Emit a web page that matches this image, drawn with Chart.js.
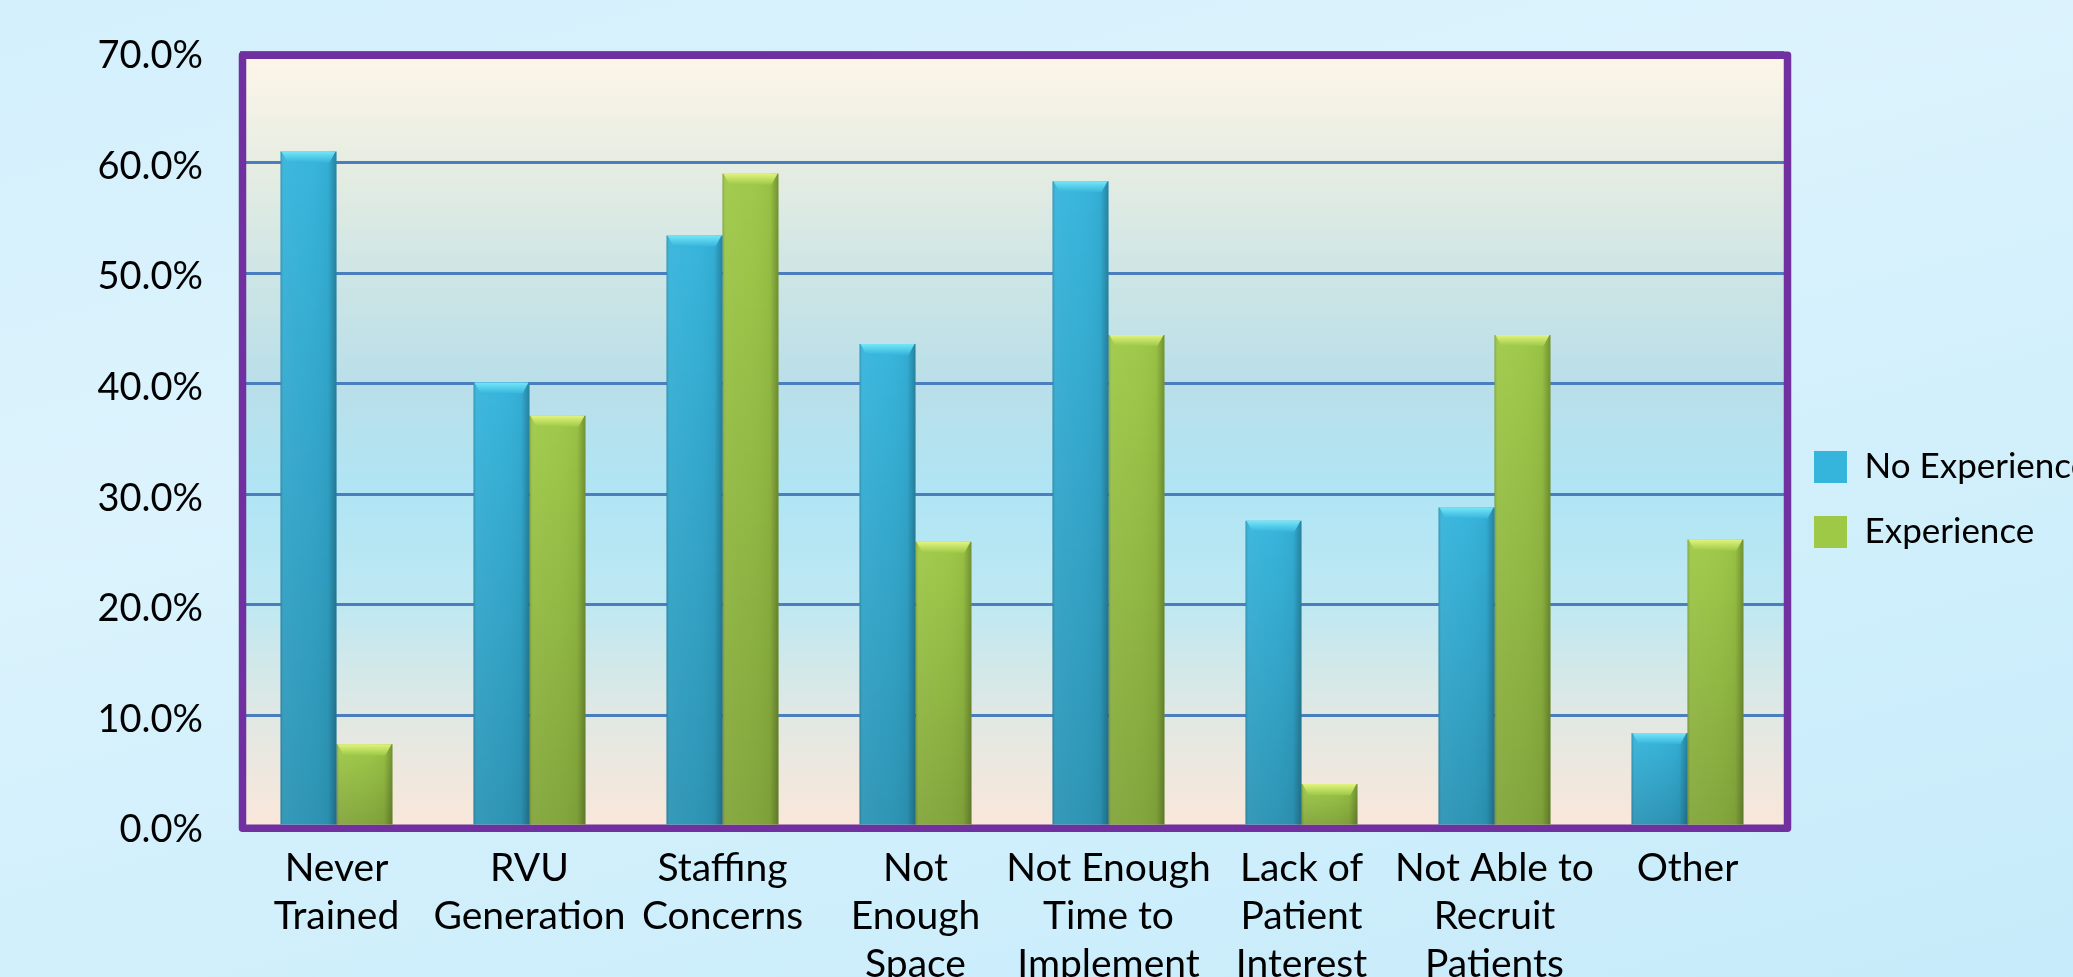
<!DOCTYPE html>
<html>
<head>
<meta charset="utf-8">
<title>Barriers to implementation</title>
<script src="https://cdn.jsdelivr.net/npm/chart.js@4.4.1/dist/chart.umd.min.js"></script>
<style>
  html, body { margin: 0; padding: 0; overflow: hidden; }
  body {
    width: 2073px; height: 977px;
    background: linear-gradient(165deg, #d3f0fc 0%, #dcf3fd 35%, #d2f0fc 60%, #c7ebfa 100%);
  }
  #myChart { display: block; }
</style>
</head>
<body>
<canvas id="myChart" width="2084" height="1000"></canvas>
<script>
var categories = [
  ["Never", "Trained"],
  ["RVU", "Generation"],
  ["Staffing", "Concerns"],
  ["Not", "Enough", "Space"],
  ["Not Enough", "Time to", "Implement"],
  ["Lack of", "Patient", "Interest"],
  ["Not Able to", "Recruit", "Patients"],
  ["Other"]
];
var seriesNames = ["No Experience", "Experience"];
var noExperience = [61.0, 40.1, 53.4, 43.6, 58.3, 27.6, 28.8, 8.4];
var experience = [7.4, 37.1, 59.0, 25.7, 44.4, 3.8, 44.4, 25.9];
var yTicks = [0, 10, 20, 30, 40, 50, 60, 70];

var barColors = ["#35b4dc", "#9ec947"];
var capColors = ["#74e6f8", "#e1f47e"];

Chart.defaults.font.family = "Lato, 'Liberation Sans', sans-serif";
Chart.defaults.color = "#000";

// soft vertical wash behind the plot
var plotBackground = {
  id: "plotBackground",
  beforeDraw: function (chart) {
    var a = chart.chartArea, c = chart.ctx;
    var g = c.createLinearGradient(0, a.top, 0, a.bottom);
    g.addColorStop(0.00, "#fef6e9");
    g.addColorStop(0.14, "#e7ede2");
    g.addColorStop(0.29, "#cde5e5");
    g.addColorStop(0.43, "#b9dfe9");
    g.addColorStop(0.57, "#b0e5f5");
    g.addColorStop(0.71, "#bee8f2");
    g.addColorStop(0.86, "#e1e8e3");
    g.addColorStop(1.00, "#fae7da");
    c.save();
    c.fillStyle = g;
    c.fillRect(a.left, a.top, a.right - a.left, a.bottom - a.top);
    c.restore();
  }
};

// purple frame round the plot
var plotFrame = {
  id: "plotFrame",
  beforeDatasetsDraw: function (chart) {
    var a = chart.chartArea, c = chart.ctx;
    c.save();
    c.strokeStyle = "#7030a0";
    c.lineWidth = 7.5;
    c.lineJoin = "round";
    c.strokeRect(a.left + 2.5, a.top + 3.3, a.right - a.left + 1, a.bottom - a.top - 1.1);
    c.restore();
  }
};

// the legend sits a little below the middle of the plot
var legendPlace = {
  id: "legendPlace",
  afterLayout: function (chart) {
    var lg = chart.legend;
    lg.top = 52;
    lg.bottom = 947;
    lg.height = lg.bottom - lg.top;
  }
};

// bevel shading on each bar
var barShading = {
  id: "barShading",
  afterDatasetsDraw: function (chart) {
    var c = chart.ctx;
    c.save();
    chart.data.datasets.forEach(function (ds, i) {
      var meta = chart.getDatasetMeta(i);
      meta.data.forEach(function (bar) {
        var p = bar.getProps(["x", "y", "base", "width"], true);
        var l = p.x - p.width / 2, r = p.x + p.width / 2, h = p.base - p.y;
        if (h <= 0) return;

        var g = c.createLinearGradient(0, p.y, 0, p.base);
        g.addColorStop(0, "rgba(0,0,0,0)");
        g.addColorStop(1, "rgba(0,0,0,0.18)");
        c.fillStyle = g;
        c.fillRect(l, p.y, p.width, h);

        g = c.createLinearGradient(l, 0, r, 0);
        g.addColorStop(0.00, "rgba(0,0,0,0.18)");
        g.addColorStop(0.06, "rgba(255,255,255,0.05)");
        g.addColorStop(0.45, "rgba(255,255,255,0.02)");
        g.addColorStop(0.85, "rgba(0,0,0,0.04)");
        g.addColorStop(0.94, "rgba(0,0,0,0.18)");
        g.addColorStop(1.00, "rgba(0,0,0,0.28)");
        c.fillStyle = g;
        c.fillRect(l, p.y, p.width, h);

        var capH = Math.min(11, h);
        g = c.createLinearGradient(0, p.y, 0, p.y + capH);
        g.addColorStop(0, capColors[i]);
        g.addColorStop(1, barColors[i]);
        c.fillStyle = g;
        c.beginPath();
        c.moveTo(l + 1, p.y);
        c.lineTo(r - 1, p.y);
        c.lineTo(r - 7, p.y + capH);
        c.lineTo(l + 7, p.y + capH);
        c.closePath();
        c.fill();
      });
    });
    c.restore();
  }
};

var ctx = document.getElementById("myChart");
var chart = new Chart(ctx, {
  type: "bar",
  data: {
    labels: categories,
    datasets: [{
      label: seriesNames[0],
      data: noExperience,
      backgroundColor: barColors[0],
      borderWidth: 0
    }, {
      label: seriesNames[1],
      data: experience,
      backgroundColor: barColors[1],
      borderWidth: 0
    }]
  },
  options: {
    responsive: false,
    animation: false,
    layout: { padding: { top: 52, left: 0, right: 0, bottom: 0 } },
    datasets: {
      bar: { categoryPercentage: 0.58, barPercentage: 1.0 }
    },
    scales: {
      x: {
        grid: { display: false, drawTicks: false },
        border: { display: false },
        ticks: {
          padding: 18,
          maxRotation: 0,
          autoSkip: false,
          font: { size: 39, lineHeight: 1.24 }
        },
        afterFit: function (scale) { scale.height = 174; }
      },
      y: {
        min: 0,
        max: 70,
        afterBuildTicks: function (scale) {
          scale.ticks = yTicks.map(function (v) { return { value: v }; });
        },
        // invisible tick marks keep the labels clear of the frame
        grid: { color: "#4a7ebf", lineWidth: 3, drawTicks: true, tickLength: 37, tickColor: "rgba(0,0,0,0)" },
        border: { display: false },
        ticks: {
          padding: 0,
          labelOffset: 4,
          font: { size: 38 },
          callback: function (v) { return v.toFixed(1) + "%"; }
        },
        afterFit: function (scale) { scale.width = 240; }
      }
    },
    plugins: {
      legend: {
        position: "right",
        align: "center",
        labels: {
          boxWidth: 33,
          boxHeight: 32,
          padding: 30,
          font: { size: 35 }
        }
      },
      tooltip: { enabled: false }
    }
  },
  plugins: [plotBackground, plotFrame, legendPlace, barShading]
});

// keep the legend column a fixed width so the plot ends where it should
var legendFit = chart.legend.fit;
chart.legend.fit = function () {
  legendFit.call(this);
  this.width = 300;
};
chart.update();
</script>
</body>
</html>
